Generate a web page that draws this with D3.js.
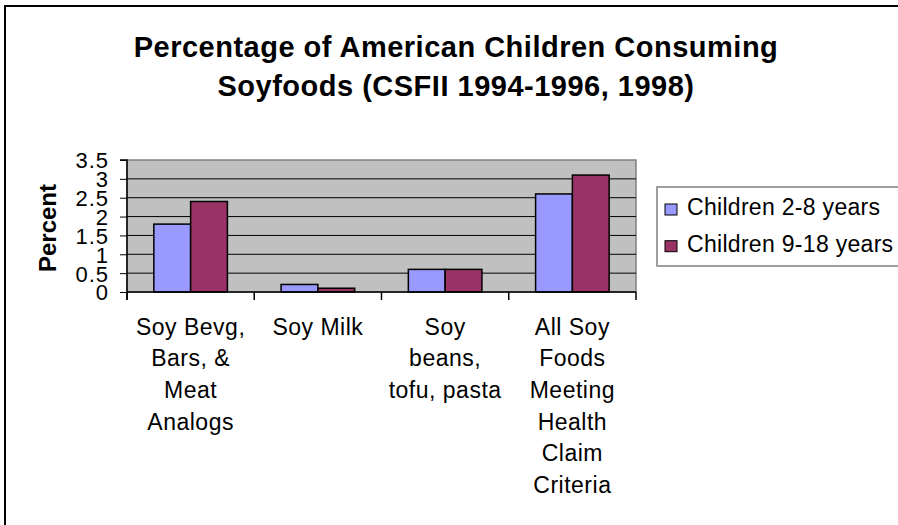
<!DOCTYPE html>
<html>
<head>
<meta charset="utf-8">
<script src="https://cdn.jsdelivr.net/npm/d3@7"></script>
<style>
  body { margin: 0; background: #fff; }
  svg { display: block; font-family: "Liberation Sans", Arial, sans-serif; }
</style>
</head>
<body>
<svg id="chart"></svg>
<script>
// Données
const categories = [
    ["Soy Bevg,", "Bars, &", "Meat", "Analogs"],
    ["Soy Milk"],
    ["Soy", "beans,", "tofu, pasta"],
    ["All Soy", "Foods", "Meeting", "Health", "Claim", "Criteria"]
];
const seriesNames = ["Children 2-8 years", "Children 9-18 years"];
const kids2to8 = [1.8, 0.2, 0.6, 2.6];
const kids9to18 = [2.4, 0.1, 0.6, 3.1];
const yTicks = [0, 0.5, 1, 1.5, 2, 2.5, 3, 3.5];
const colors = ["#9999ff", "#993366"];

const width = 898;
const height = 525;
const plot = { left: 127, right: 636, top: 160, bottom: 292 };

const svg = d3.select("#chart")
    .attr("width", width)
    .attr("height", height);

// Cadre extérieur (haut et gauche seulement visibles)
svg.append("path")
    .attr("d", `M5,${height} V6 H${width}`)
    .attr("fill", "none")
    .attr("stroke", "#000")
    .attr("stroke-width", 2);

// Titre
const title = svg.append("text")
    .attr("text-anchor", "middle")
    .attr("font-size", 29)
    .attr("font-weight", "bold")
    .attr("letter-spacing", 0.5);
title.append("tspan").attr("x", 456).attr("y", 57).text("Percentage of American Children Consuming");
title.append("tspan").attr("x", 456).attr("y", 96).text("Soyfoods (CSFII 1994-1996, 1998)");

// Échelles
const x0 = d3.scaleBand()
    .domain(d3.range(categories.length))
    .range([plot.left, plot.right]);
const x1 = d3.scaleBand()
    .domain([0, 1])
    .range([0, x0.bandwidth()])
    .paddingOuter(0.73);
const y = d3.scaleLinear()
    .domain([0, 3.5])
    .range([plot.bottom, plot.top]);

// Zone de tracé
svg.append("rect")
    .attr("x", plot.left)
    .attr("y", plot.top)
    .attr("width", plot.right - plot.left)
    .attr("height", plot.bottom - plot.top)
    .attr("fill", "#c0c0c0")
    .attr("stroke", "#808080")
    .attr("stroke-width", 1.5);

// Grille
svg.append("g")
    .selectAll("line")
    .data(yTicks.filter(d => d > 0 && d < 3.5))
    .enter()
    .append("line")
    .attr("x1", plot.left)
    .attr("x2", plot.right)
    .attr("y1", d => y(d))
    .attr("y2", d => y(d))
    .attr("stroke", "#000")
    .attr("stroke-width", 1);

// Barres
const data = categories.map((c, i) => [kids2to8[i], kids9to18[i]]);
svg.append("g")
    .selectAll("g")
    .data(data)
    .enter()
    .append("g")
    .attr("transform", (d, i) => `translate(${x0(i)},0)`)
    .selectAll("rect")
    .data(d => d)
    .enter()
    .append("rect")
    .attr("x", (d, j) => x1(j))
    .attr("y", d => y(d))
    .attr("width", x1.bandwidth())
    .attr("height", d => y(0) - y(d))
    .attr("fill", (d, j) => colors[j])
    .attr("stroke", "#000")
    .attr("stroke-width", 1.5);

// Axe Y
const yAxis = svg.append("g")
    .attr("transform", `translate(${plot.left},0)`)
    .call(d3.axisLeft(y).tickValues(yTicks).tickFormat(d3.format("")).tickSize(7).tickPadding(11));
yAxis.select(".domain").attr("stroke", "#000").attr("stroke-width", 1.5).attr("d", `M-7,${plot.top}H0V${plot.bottom + 8}`);
yAxis.selectAll("text")
    .attr("font-size", 22)
    .attr("letter-spacing", 1)
    .attr("fill", "#000")
    .attr("font-family", "Liberation Sans, Arial, sans-serif")
    .attr("dy", "0.36em");
yAxis.selectAll(".tick line").attr("stroke", "#000");

// Axe X (graduations entre catégories)
svg.append("line")
    .attr("x1", plot.left).attr("x2", plot.right)
    .attr("y1", plot.bottom).attr("y2", plot.bottom)
    .attr("stroke", "#000").attr("stroke-width", 1.5);
svg.append("g")
    .selectAll("line")
    .data(d3.range(categories.length + 1))
    .enter()
    .append("line")
    .attr("x1", i => i < categories.length ? x0(i) : plot.right)
    .attr("x2", i => i < categories.length ? x0(i) : plot.right)
    .attr("y1", plot.bottom)
    .attr("y2", plot.bottom + 8)
    .attr("stroke", "#000")
    .attr("stroke-width", 1.5);

// Étiquettes des catégories
const labels = svg.append("g")
    .selectAll("text")
    .data(categories)
    .enter()
    .append("text")
    .attr("text-anchor", "middle")
    .attr("font-size", 23)
    .attr("letter-spacing", 0.5);
labels.selectAll("tspan")
    .data((d, i) => d.map(line => ({ line, i })))
    .enter()
    .append("tspan")
    .attr("x", d => x0(d.i) + x0.bandwidth() / 2)
    .attr("y", (d, k) => 334.5 + k * 31.7)
    .text(d => d.line);

// Titre de l'axe Y
svg.append("text")
    .attr("transform", "translate(56,228) rotate(-90)")
    .attr("text-anchor", "middle")
    .attr("font-size", 24)
    .attr("font-weight", "bold")
    .text("Percent");

// Légende
const legend = svg.append("g");
legend.append("rect")
    .attr("x", 657)
    .attr("y", 187)
    .attr("width", 260)
    .attr("height", 79)
    .attr("fill", "#fff")
    .attr("stroke", "#808080")
    .attr("stroke-width", 1.5);
seriesNames.forEach((name, i) => {
    legend.append("rect")
        .attr("x", 665)
        .attr("y", 204 + i * 36.7)
        .attr("width", 12)
        .attr("height", 11)
        .attr("fill", colors[i])
        .attr("stroke", "#000")
        .attr("stroke-width", 1);
    legend.append("text")
        .attr("x", 687)
        .attr("y", 215 + i * 36.7)
        .attr("font-size", 23)
        .attr("letter-spacing", 0.3)
        .text(name);
});
</script>
</body>
</html>
